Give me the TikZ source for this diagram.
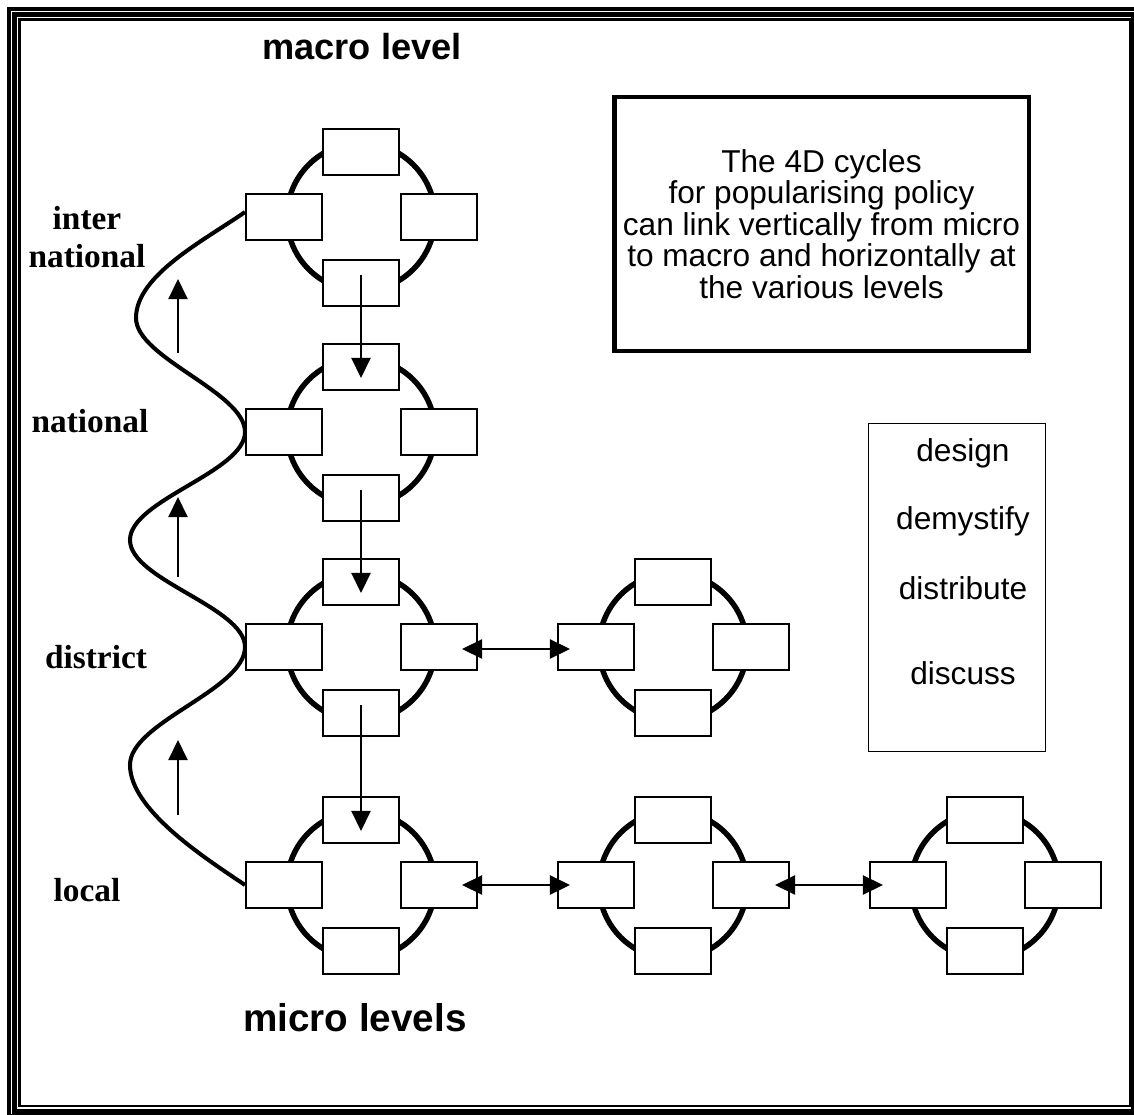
\documentclass[tikz,border=0pt]{standalone}
\usepackage{fontspec}
\setmainfont{Liberation Serif}
\newfontfamily\arial{Liberation Sans}
\usetikzlibrary{arrows.meta}
\newcommand\mkcyc[3]{%
  \node[circ] (#1) at (#2,#3) {};
  \node[bx] (#1t) at (#2,#3-65) {};
  \node[bx] (#1b) at (#2,#3+66) {};
  \node[bx] (#1l) at (#2-77,#3) {};
  \node[bx] (#1r) at (#2+78,#3) {};
}
\begin{document}
\begin{tikzpicture}[x=0.02cm,y=-0.02cm,
  circ/.style={circle, draw, line width=3.1pt, minimum size=2.96cm, inner sep=0pt},
  bx/.style={rectangle, draw, fill=white, line width=1.1pt, minimum width=1.52cm, minimum height=0.92cm, inner sep=0pt},
  tip/.tip={Triangle[length=11.5pt,width=11pt]},
  varr/.style={-tip, line width=0.85pt},
  harr/.style={tip-tip, line width=0.85pt},
  wave/.style={line width=2.3pt},
  lvl/.style={font=\bfseries\fontsize{19}{21.5}\selectfont, align=center, inner sep=0pt},
  title/.style={font=\arial\bfseries\fontsize{#1}{#1}\selectfont, inner sep=0pt},
  word/.style={font=\arial\fontsize{18}{18}\selectfont, inner sep=0pt}
]
\useasboundingbox (0,0) rectangle (1134,1115);
\clip (0,0) rectangle (1134,1115);
\fill[white] (0,0) rectangle (1134,1115);
% frame
\draw[line width=2.3pt] (8.8,8.8) rectangle (1138.5,1116.5);
\draw[line width=2.5pt] (14.5,14.5) rectangle (1133.5,1111.5);
\draw[line width=1.5pt] (19.7,19.7) rectangle (1130.2,1106);
% titles
\node[title=20.6] (macro) at (362,47) {macro level};
\node[title=22] (micro) at (355,1018) {micro levels};
% level labels
\node[lvl] (lint) at (87,237) {inter\\national};
\node[lvl] (lnat) at (90,421) {national};
\node[lvl] (ldis) at (96,657) {district};
\node[lvl] (lloc) at (87,890) {local};
% wave behind cycles
\coordinate (k1) at (136,318);
\coordinate (k2) at (130,540);
\coordinate (k3) at (130,765);
\coordinate (s0) at (245,212);
\coordinate (n0) at (245,432);
\coordinate (d0) at (245,647);
\coordinate (l0) at (245,885);
\draw[wave] (s0) .. controls (205,240) and (136,275) .. (k1)
  .. controls (136,358) and (245,392) .. (n0)
  .. controls (245,472) and (130,500) .. (k2)
  .. controls (130,580) and (245,607) .. (d0)
  .. controls (245,690) and (130,722) .. (k3)
  .. controls (130,810) and (205,858) .. (l0);
% cycles
\mkcyc{int}{361}{217}
\mkcyc{nat}{361}{432}
\mkcyc{dis}{361}{647}
\mkcyc{disB}{673}{647}
\mkcyc{loc}{361}{885}
\mkcyc{locB}{673}{885}
\mkcyc{locC}{985}{885}
% vertical arrows down
\draw[varr] ([yshift=0.16cm]intb.center) -- ([yshift=-0.22cm]natt.center);
\draw[varr] ([yshift=0.16cm]natb.center) -- ([yshift=-0.22cm]dist.center);
\draw[varr] ([yshift=0.16cm]disb.center) -- ([yshift=-0.22cm]loct.center);
% horizontal double arrows
\draw[harr] ([xshift=0.46cm,yshift=-0.04cm]disr.center) -- ([xshift=-0.52cm,yshift=-0.04cm]disBl.center);
\draw[harr] ([xshift=0.46cm]locr.center) -- ([xshift=-0.52cm]locBl.center);
\draw[harr] ([xshift=0.48cm]locBr.center) -- ([xshift=-0.5cm]locCl.center);
% up arrows on the left
\coordinate (u1a) at (178,353); \coordinate (u1b) at (178,279);
\coordinate (u2a) at (178,577); \coordinate (u2b) at (178,497);
\coordinate (u3a) at (178,815); \coordinate (u3b) at (178,740);
\draw[varr] (u1a) -- (u1b);
\draw[varr] (u2a) -- (u2b);
\draw[varr] (u3a) -- (u3b);
% explanation box
\node[draw, line width=2.8pt, minimum width=8.3cm, minimum height=5.08cm, align=center,
      font=\arial\fontsize{18}{17.9}\selectfont, inner sep=0pt] (expl) at (821.5,224)
  {The 4D cycles\\for popularising policy\\can link vertically from micro\\to macro and horizontally at\\the various levels};
% legend box
\node[draw, line width=0.85pt, minimum width=3.54cm, minimum height=6.56cm, inner sep=0pt] (leg) at (957,587.5) {};
\node[word] (w1) at (963,453) {design};
\node[word] (w2) at (963,521) {demystify};
\node[word] (w3) at (963,588) {distribute};
\node[word] (w4) at (963,673) {discuss};
\end{tikzpicture}
\end{document}
